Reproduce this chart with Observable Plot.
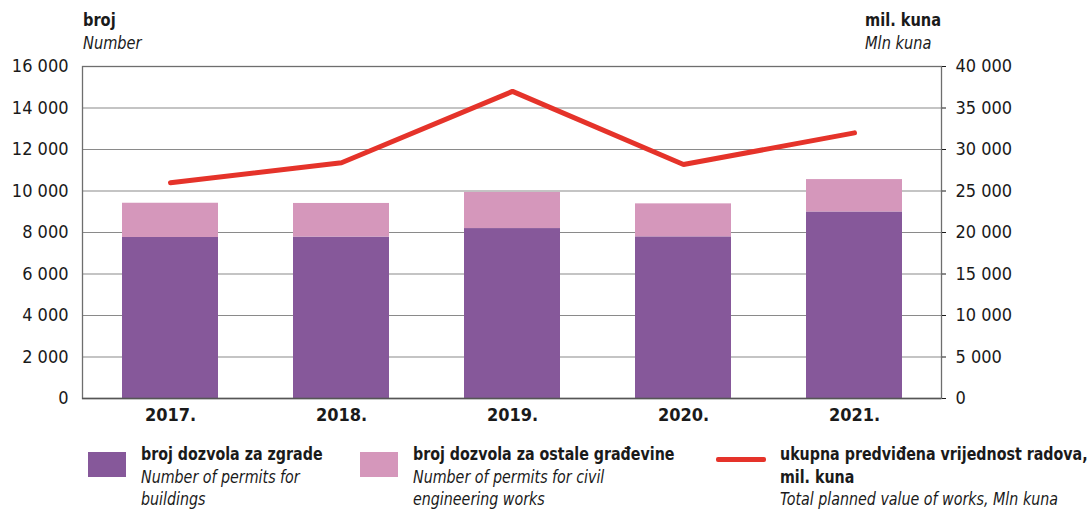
<!DOCTYPE html>
<html>
<head>
<meta charset="utf-8">
<script src="https://cdn.jsdelivr.net/npm/d3@7"></script>
<script src="https://cdn.jsdelivr.net/npm/@observablehq/plot@0.6"></script>
<style>
  html, body { margin: 0; padding: 0; background: #fff; }
  body { width: 1090px; height: 510px; position: relative; overflow: hidden;
         font-family: "DejaVu Sans Condensed", "Liberation Sans", sans-serif; color: #1a1a1a; }
  #chart { position: absolute; left: 0; top: 0; }
  .lbl { position: absolute; font-size: 18px; line-height: 23px; white-space: nowrap; transform: scaleX(0.9); transform-origin: left top; }
  .b { font-weight: bold; }
  .i { font-style: italic; }
  .leg { position: absolute; font-size: 18px; line-height: 22.5px; white-space: nowrap; transform: scaleX(0.88); transform-origin: left top; }
  .sw { position: absolute; }
</style>
</head>
<body>
<div id="chart"></div>
<div class="lbl" style="left:83px; top:8px;"><span class="b">broj</span><br><span class="i">Number</span></div>
<div class="lbl" style="left:865px; top:8px;"><span class="b">mil. kuna</span><br><span class="i">Mln kuna</span></div>

<div class="sw" style="left:88px; top:452px; width:38px; height:25px; background:#86589a;"></div>
<div class="leg" style="left:141px; top:443px;"><span class="b">broj dozvola za zgrade</span><br><span class="i">Number of permits for<br>buildings</span></div>

<div class="sw" style="left:360px; top:452px; width:38px; height:25px; background:#d597bb;"></div>
<div class="leg" style="left:413px; top:443px;"><span class="b">broj dozvola za ostale građevine</span><br><span class="i">Number of permits for civil<br>engineering works</span></div>

<div class="sw" style="left:716px; top:457px; width:50px; height:5px; background:#e5332a; border-radius:2px;"></div>
<div class="leg" style="left:780px; top:443px;"><span class="b">ukupna predviđena vrijednost radova,<br>mil. kuna</span><br><span class="i">Total planned value of works, Mln kuna</span></div>

<script>
const years = ["2017.", "2018.", "2019.", "2020.", "2021."];
const buildings = [7760, 7780, 8190, 7790, 8990];
const civil = [1650, 1620, 1740, 1590, 1560];
const totalValue = [26000, 28400, 37000, 28200, 32000];
const leftTicks = [0, 2000, 4000, 6000, 8000, 10000, 12000, 14000, 16000];
const seriesNames = ["broj dozvola za zgrade", "broj dozvola za ostale građevine"];

const ratio = 16000 / 40000;
const fmt = v => d3.format(",")(v).replace(/,/g, " ");

const barData = [];
years.forEach((y, i) => {
  barData.push({year: y, series: seriesNames[0], value: buildings[i]});
  barData.push({year: y, series: seriesNames[1], value: civil[i]});
});
const lineData = years.map((y, i) => ({year: y, value: totalValue[i]}));

const chart = Plot.plot({
  width: 1090,
  height: 430,
  marginTop: 66,
  marginBottom: 32,
  marginLeft: 82,
  marginRight: 149,
  style: {fontFamily: '"DejaVu Sans Condensed", "Liberation Sans", sans-serif', fontSize: "18px", color: "#1a1a1a", background: "transparent"},
  x: {domain: years, paddingInner: 0.44, paddingOuter: 0.22},
  y: {domain: [0, 16000]},
  color: {domain: seriesNames, range: ["#86589a", "#d597bb"]},
  marks: [
    Plot.gridY(leftTicks, {stroke: "#8a8a8a", strokeOpacity: 1, strokeWidth: 1.2}),
    Plot.barY(barData, {x: "year", y: "value", fill: "series"}),
    Plot.frame({stroke: "#6e6e6e", strokeWidth: 1.3}),
    Plot.ruleY([0], {stroke: "#555", strokeWidth: 1.5}),
    Plot.lineY(lineData, {x: "year", y: d => d.value * ratio, stroke: "#e5332a", strokeWidth: 5, strokeLinecap: "round", strokeLinejoin: "miter"}),
    Plot.axisY(leftTicks, {tickSize: 0, tickPadding: 14, tickFormat: fmt, label: null}),
    Plot.axisY(leftTicks, {anchor: "right", tickSize: 4, tickPadding: 10, tickFormat: d => fmt(d / ratio), label: null}),
    Plot.axisX({tickSize: 0, tickPadding: 10, label: null, fontWeight: "bold"})
  ]
});
document.getElementById("chart").appendChild(chart);
</script>
</body>
</html>
